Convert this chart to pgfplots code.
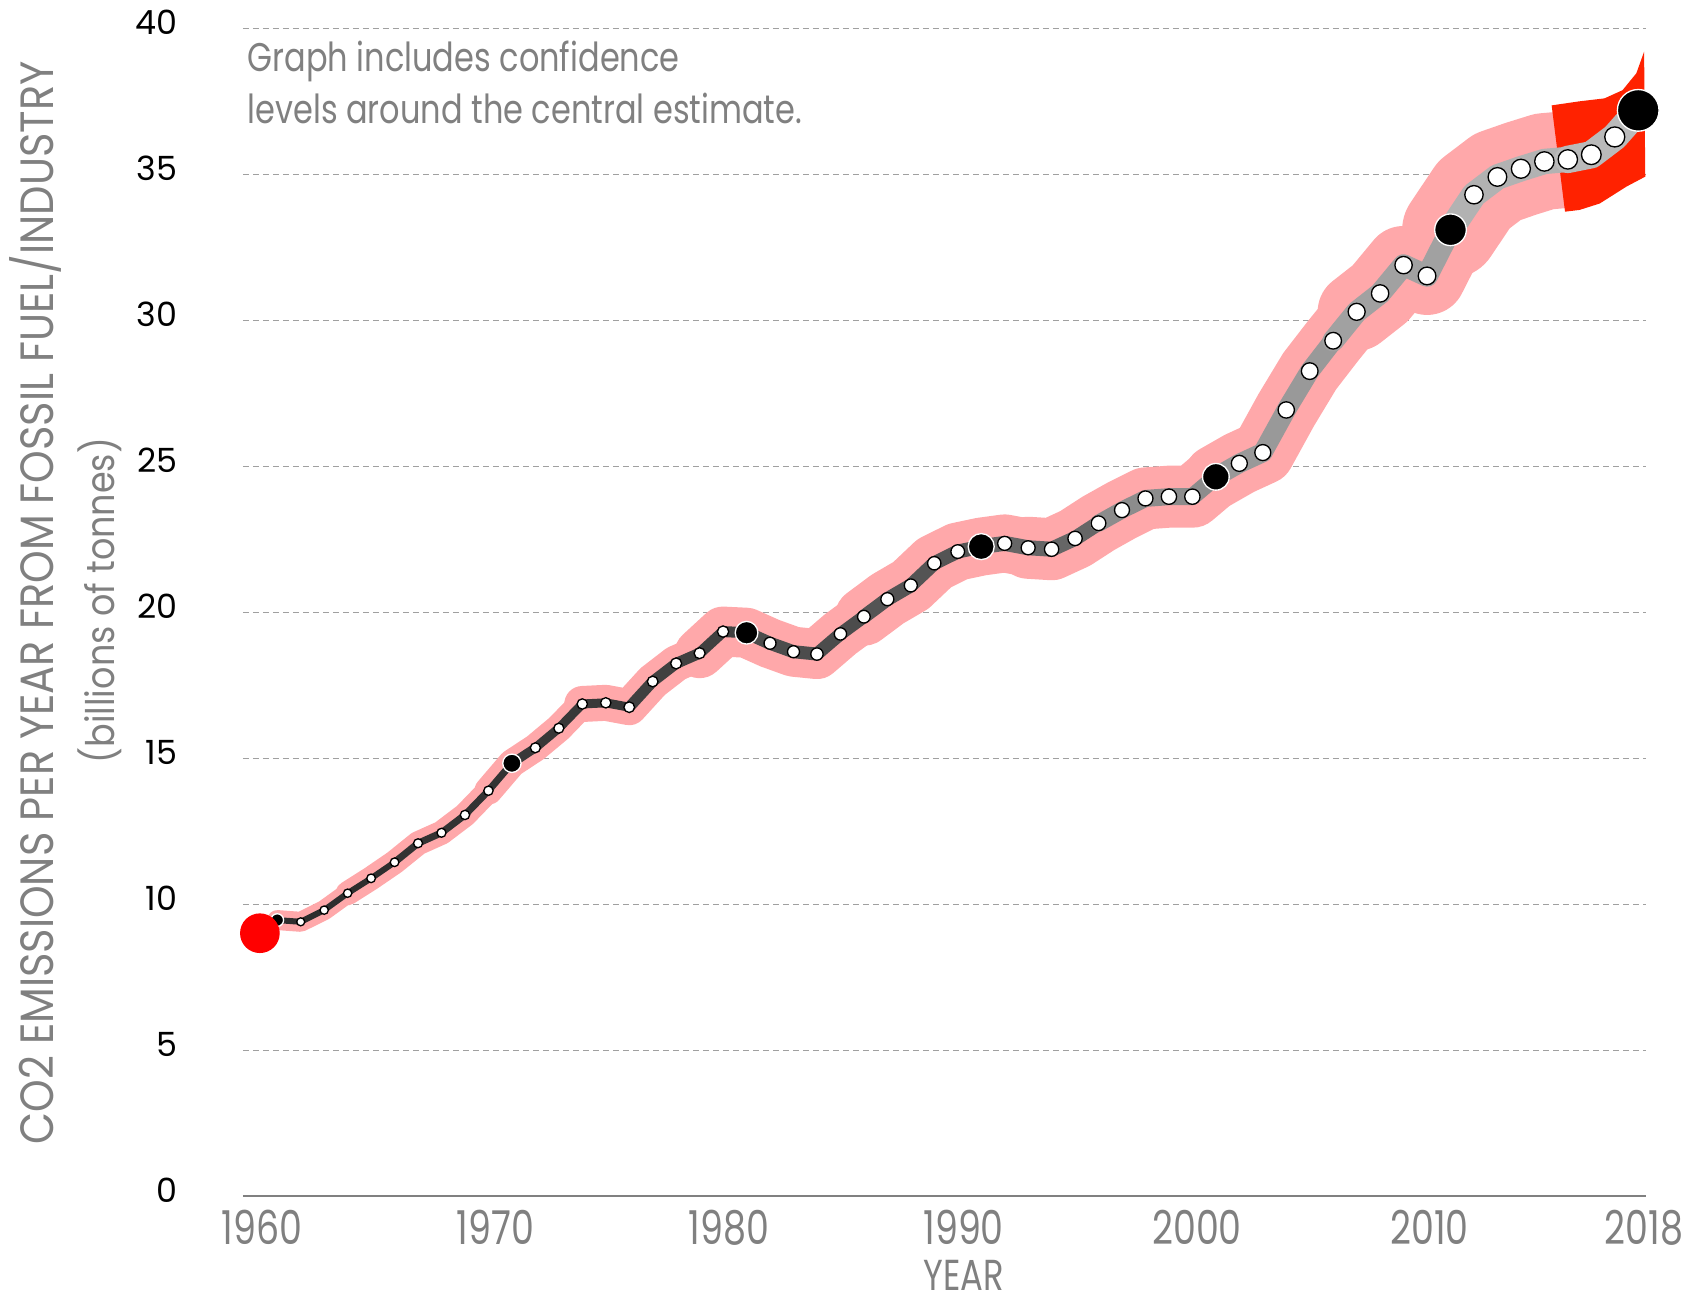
\documentclass[border=0pt]{standalone}
\usepackage{pgfplots}
\pgfplotsset{compat=1.18}
\usepackage{pgfplotstable}
\usepackage{fontspec}
\setmainfont{Poppins}
\newfontfamily\condfont{Poppins}[FakeStretch=0.78]
\newfontfamily\labfont{Poppins}[FakeStretch=0.89]
\newfontfamily\notefont{Poppins}[FakeStretch=0.8]
\definecolor{pinkband}{RGB}{255,168,170}
\definecolor{redband}{RGB}{255,34,0}
\definecolor{txtgray}{RGB}{128,128,128}
\definecolor{gridgray}{RGB}{160,160,160}

\pgfplotstableread{
year val r
1960 9.46 1.2
1961 9.40 1.2
1962 9.80 1.25
1963 10.38 1.25
1964 10.89 1.3
1965 11.44 1.3
1966 12.09 1.35
1967 12.45 1.35
1968 13.06 1.4
1969 13.89 1.4
1970 14.83 1.45
1971 15.36 1.5
1972 16.03 1.5
1973 16.86 1.55
1974 16.90 1.55
1975 16.75 1.6
1976 17.63 1.6
1977 18.25 1.65
1978 18.60 1.65
1979 19.34 1.7
1980 19.30 1.75
1981 18.94 1.8
1982 18.65 1.8
1983 18.57 1.85
1984 19.26 1.85
1985 19.85 1.9
1986 20.45 1.95
1987 20.92 1.95
1988 21.68 2.0
1989 22.08 2.05
1990 22.25 2.05
1991 22.36 2.1
1992 22.21 2.1
1993 22.16 2.15
1994 22.53 2.15
1995 23.05 2.2
1996 23.50 2.25
1997 23.90 2.25
1998 23.96 2.3
1999 23.96 2.3
2000 24.64 2.35
2001 25.10 2.4
2002 25.47 2.4
2003 26.93 2.45
2004 28.26 2.5
2005 29.30 2.5
2006 30.29 2.55
2007 30.92 2.6
2008 31.89 2.6
2009 31.52 2.65
2010 33.10 2.7
2011 34.30 2.75
2012 34.91 2.8
2013 35.19 2.85
2014 35.44 2.9
2015 35.51 2.9
2016 35.67 2.95
2017 36.28 3.0
2018 37.19 3.0
}\co

\pgfplotstableread{
year val r
1960 9.46 1.9
1970 14.83 2.75
1980 19.30 3.4
1990 22.25 3.9
2000 24.64 4.0
2010 33.10 4.75
2018 37.19 6.25
}\decade

\begin{document}
\begin{tikzpicture}
\begin{axis}[
  at={(0,0)}, anchor=south west,
  scale only axis, width=420.75pt, height=350.4pt,
  xmin=1958.54, xmax=2018.31, ymin=0, ymax=40,
  clip=false,
  axis x line*=bottom, axis y line*=left,
  y axis line style={draw=none},
  x axis line style={draw=txtgray, line width=0.7pt},
  major tick length=0pt,
  ytick={0,5,...,40},
  xtick={1959.35,1969.3,1979.25,1989.25,1999.2,2009.1,2018.25},
  xticklabels={1960,1970,1980,1990,2000,2010,2018},
  ymajorgrids,
  grid style={gridgray, line width=0.45pt, dash pattern=on 1.8pt off 1.2pt},
  /pgf/number format/assume math mode=true,
  yticklabel style={font=\fontsize{10}{12}\selectfont, text=black, anchor=base east, inner sep=0pt, xshift=-19.5pt, yshift=-2pt},
  xticklabel style={font=\condfont\fontsize{14}{16}\selectfont, text=txtgray, anchor=base, inner sep=0pt, yshift=-14.4pt},
]
% pink confidence band (stroked, width grows over time)
\addplot[pinkband, line width=6pt, line join=round, line cap=round, restrict x to domain=1960:1963] table[x=year,y=val]{\co};
\addplot[pinkband, line width=7.2pt, line join=round, line cap=round, restrict x to domain=1963:1969] table[x=year,y=val]{\co};
\addplot[pinkband, line width=8.4pt, line join=round, line cap=round, restrict x to domain=1969:1973] table[x=year,y=val]{\co};
\addplot[pinkband, line width=10.8pt, line join=round, line cap=round, restrict x to domain=1973:1978] table[x=year,y=val]{\co};
\addplot[pinkband, line width=15pt, line join=round, line cap=round, restrict x to domain=1978:1985] table[x=year,y=val]{\co};
\addplot[pinkband, line width=17.4pt, line join=round, line cap=round, restrict x to domain=1985:1992] table[x=year,y=val]{\co};
\addplot[pinkband, line width=18.6pt, line join=round, line cap=round, restrict x to domain=1992:2000] table[x=year,y=val]{\co};
\addplot[pinkband, line width=19.2pt, line join=round, line cap=round, restrict x to domain=2000:2006] table[x=year,y=val]{\co};
\addplot[pinkband, line width=23.4pt, line join=round, line cap=round, restrict x to domain=2006:2010] table[x=year,y=val]{\co};
\addplot[pinkband, line width=29pt, line join=round, line cap=round, restrict x to domain=2010:2015] table[x=year,y=val]{\co};
% red band for the latest years
\addplot[fill=redband, draw=none] coordinates {
(2014.31,37.36) (2015.5,37.5) (2016.56,37.6) (2017.33,37.88) (2017.92,38.46) (2018.25,39.2)
(2018.3,34.92) (2017.5,34.58) (2016.36,34.0) (2015.5,33.78) (2014.88,33.72)} -- cycle;
% inner grey band
\addplot[black!82, line width=1.8pt, line join=round, line cap=round, restrict x to domain=1960:1965] table[x=year,y=val]{\co};
\addplot[black!80, line width=2.1pt, line join=round, line cap=round, restrict x to domain=1965:1970] table[x=year,y=val]{\co};
\addplot[black!78, line width=2.7pt, line join=round, line cap=round, restrict x to domain=1970:1975] table[x=year,y=val]{\co};
\addplot[black!75, line width=3.3pt, line join=round, line cap=round, restrict x to domain=1975:1980] table[x=year,y=val]{\co};
\addplot[black!70, line width=3.9pt, line join=round, line cap=round, restrict x to domain=1980:1985] table[x=year,y=val]{\co};
\addplot[black!67, line width=4.2pt, line join=round, line cap=round, restrict x to domain=1985:1990] table[x=year,y=val]{\co};
\addplot[black!60, line width=4.5pt, line join=round, line cap=round, restrict x to domain=1990:1995] table[x=year,y=val]{\co};
\addplot[black!45, line width=5.1pt, line join=round, line cap=round, restrict x to domain=1995:2000] table[x=year,y=val]{\co};
\addplot[black!40, line width=5.8pt, line join=round, line cap=round, restrict x to domain=2000:2005] table[x=year,y=val]{\co};
\addplot[black!37, line width=6.5pt, line join=round, line cap=round, restrict x to domain=2005:2010] table[x=year,y=val]{\co};
\addplot[black!30, line width=7.6pt, line join=round, line cap=round, restrict x to domain=2010:2015] table[x=year,y=val]{\co};
\addplot[black!27, line width=8.2pt, line join=round, line cap=round, restrict x to domain=2015:2018] table[x=year,y=val]{\co};
% yearly white markers
\addplot[scatter, only marks, mark=*, mark options={line width=0.4pt},
  scatter/use mapped color={draw=black, fill=white},
  visualization depends on={\thisrow{r}\as\rr},
  scatter/@pre marker code/.append style={/tikz/mark size=\rr}]
  table[x=year,y=val]{\co};
% decade black markers
\addplot[scatter, only marks, mark=*, mark options={line width=0.4pt},
  scatter/use mapped color={draw=white, fill=black},
  visualization depends on={\thisrow{r}\as\rr},
  scatter/@pre marker code/.append style={/tikz/mark size=\rr}]
  table[x=year,y=val]{\decade};
% start marker
\addplot[only marks, mark=*, mark size=5.75pt, color=red] coordinates {(1959.26,9.01)};

\node[rotate=90, font=\labfont\fontsize{14}{16}\selectfont, text=txtgray] at ([xshift=-62.2pt]rel axis cs:0,0.508) {CO2 EMISSIONS PER YEAR FROM FOSSIL FUEL/INDUSTRY};
\node[rotate=90, font=\labfont\fontsize{11.8}{14}\selectfont, text=txtgray] at ([xshift=-43pt]rel axis cs:0,0.51) {(billions of tonnes)};
\node[anchor=base, inner sep=0pt, font=\condfont\fontsize{13}{16}\selectfont, text=txtgray] at ([yshift=-28.3pt]axis cs:1989.26,0) {YEAR};
\node[anchor=base west, inner sep=0pt, font=\notefont\fontsize{12}{14}\selectfont, text=txtgray] at ([xshift=1.2pt,yshift=-13pt]rel axis cs:0,1) {Graph includes confidence};
\node[anchor=base west, inner sep=0pt, font=\notefont\fontsize{12}{14}\selectfont, text=txtgray] at ([xshift=1.2pt,yshift=-28.6pt]rel axis cs:0,1) {levels around the central estimate.};
\end{axis}
\pgfresetboundingbox
\path (-72.9pt,-32.31pt) rectangle (436.5pt,358.89pt);
\end{tikzpicture}
\end{document}
